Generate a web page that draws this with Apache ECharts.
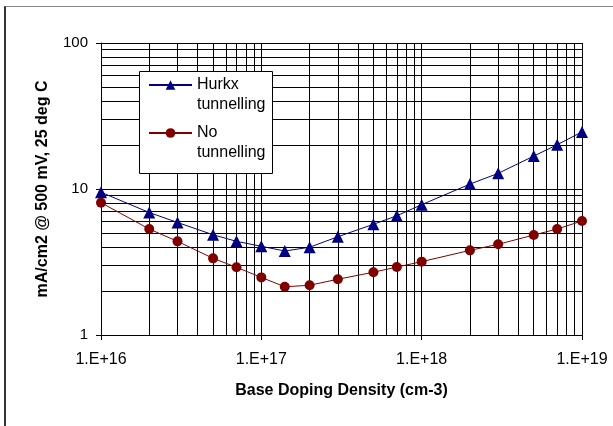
<!DOCTYPE html>
<html>
<head>
<meta charset="utf-8">
<script src="https://cdn.jsdelivr.net/npm/echarts@6/dist/echarts.min.js"></script>
<style>
html,body{margin:0;padding:0;background:#fff;overflow:hidden;}
#frame{position:absolute;left:4px;top:6px;width:700px;height:500px;border-top:1px solid #888;border-left:2px solid #333;}
#chart{position:absolute;left:0;top:0;width:613px;height:426px;}
</style>
</head>
<body>
<div id="frame"></div>
<div id="chart"></div>
<script>
// Data
const dopingDensity = [1e16, 2e16, 3e16, 5e16, 7e16, 1e17, 1.4e17, 2e17, 3e17, 5e17, 7e17, 1e18, 2e18, 3e18, 5e18, 7e18, 1e19];
const hurkxTunnelling = [9.5, 6.9, 5.9, 4.86, 4.38, 4.05, 3.76, 3.99, 4.71, 5.73, 6.56, 7.81, 10.8, 12.8, 16.8, 20.1, 24.6];
const noTunnelling = [8.06, 5.32, 4.38, 3.35, 2.91, 2.48, 2.14, 2.19, 2.41, 2.69, 2.92, 3.18, 3.80, 4.18, 4.84, 5.32, 6.04];
const seriesNames = ['Hurkx\ntunnelling', 'No\ntunnelling'];
const xTickLabels = ['1.E+16', '1.E+17', '1.E+18', '1.E+19'];
const yTickLabels = ['1', '10', '100'];
const xDecades = [16, 17, 18];
const yDecades = [0, 1];
const gridMultipliers = [1, 2, 3, 4, 5, 6, 7, 8, 9];

const xGrid = [];
xDecades.forEach(d => gridMultipliers.forEach(m => xGrid.push(m * Math.pow(10, d))));
xGrid.push(1e19);
const yGrid = [];
yDecades.forEach(d => gridMultipliers.forEach(m => yGrid.push(m * Math.pow(10, d))));
yGrid.push(100);

const font = '"Liberation Sans", Arial, sans-serif';
const chart = echarts.init(document.getElementById('chart'), null, {renderer: 'canvas'});
chart.setOption({
  backgroundColor: 'transparent',
  animation: false,
  textStyle: {fontFamily: font},
  grid: {left: 101, right: 31, top: 43, bottom: 91},
  xAxis: {
    type: 'log', logBase: 10, min: 1e16, max: 1e19, interval: 1,
    name: 'Base Doping Density (cm-3)', nameLocation: 'middle', nameGap: 48,
    nameTextStyle: {fontFamily: font, fontSize: 16, fontWeight: 'bold', color: '#000'},
    axisLine: {show: true, lineStyle: {color: '#000', width: 1}},
    axisTick: {show: true, length: 5, inside: false, lineStyle: {color: '#000'}},
    axisLabel: {fontFamily: font, fontSize: 16, color: '#000', margin: 17,
      formatter: v => xTickLabels[Math.round(Math.log10(v)) - 16]},
    splitLine: {show: false}
  },
  yAxis: {
    type: 'log', logBase: 10, min: 1, max: 100, interval: 1,
    name: 'mA/cm2 @ 500 mV, 25 deg C', nameLocation: 'middle', nameGap: 50,
    nameTextStyle: {fontFamily: font, fontSize: 16, fontWeight: 'bold', color: '#000'},
    axisLine: {show: true, lineStyle: {color: '#000', width: 1}},
    axisTick: {show: true, length: 5, inside: false, lineStyle: {color: '#000'}},
    axisLabel: {fontFamily: font, fontSize: 15, color: '#000', margin: 13,
      formatter: v => yTickLabels[Math.round(Math.log10(v))]},
    splitLine: {show: false}
  },
  legend: {
    orient: 'vertical', left: 148, top: 55, padding: 0, z: 20,
    data: seriesNames,
    itemWidth: 43, itemHeight: 12, itemGap: -12,
    formatter: name => '\n' + name,
    textStyle: {fontFamily: font, fontSize: 16, color: '#000', lineHeight: 20}
  },
  graphic: [{
    type: 'rect', z: 15, silent: true,
    shape: {x: 139.5, y: 71.5, width: 133, height: 102},
    style: {fill: '#fff', stroke: '#000', lineWidth: 1}
  }],
  series: [
    {
      type: 'line', name: 'grid', data: [], z: 1, silent: true,
      markLine: {
        silent: true, symbol: ['none', 'none'], animation: false,
        label: {show: false},
        lineStyle: {color: '#000', width: 1, type: 'solid'},
        emphasis: {disabled: true},
        data: xGrid.map(v => ({xAxis: v})).concat(yGrid.map(v => ({yAxis: v})))
      }
    },
    {
      type: 'line', name: seriesNames[0], z: 5,
      data: dopingDensity.map((x, i) => [x, hurkxTunnelling[i]]),
      symbol: 'triangle', symbolSize: 12,
      lineStyle: {color: '#000080', width: 1},
      itemStyle: {color: '#000080'}
    },
    {
      type: 'line', name: seriesNames[1], z: 5,
      data: dopingDensity.map((x, i) => [x, noTunnelling[i]]),
      symbol: 'circle', symbolSize: 10,
      lineStyle: {color: '#800000', width: 1},
      itemStyle: {color: '#800000'}
    }
  ]
});
</script>
</body>
</html>
